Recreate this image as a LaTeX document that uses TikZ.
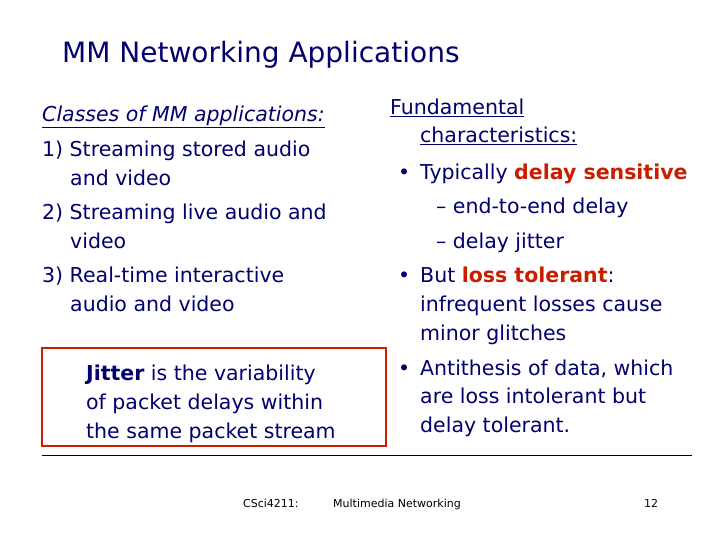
\documentclass[tikz,border=0pt]{standalone}
\usepackage{fontspec}
\setmainfont{DejaVu Sans}
\begin{document}
\begin{tikzpicture}[x=1pt,y=-1pt,
 txt/.style={anchor=base west,inner sep=0pt,text=navy,font=\fontsize{20.5}{24}\selectfont},
 foot/.style={anchor=base west,inner sep=0pt,font=\fontsize{11}{13}\selectfont}]
\definecolor{navy}{RGB}{0,0,110}
\definecolor{hl}{RGB}{200,30,0}
\useasboundingbox (0,0) rectangle (720,540);
\node[txt,font=\fontsize{28}{32}\selectfont] (title) at (62,63) {MM Networking Applications};
\node[txt] (l1) at (42,122) {\underline{\itshape Classes of MM applications:}};
\node[txt] (l2) at (42,157) {1) Streaming stored audio};
\node[txt] (l3) at (70,186) {and video};
\node[txt] (l4) at (42,219) {2) Streaming live audio and};
\node[txt] (l5) at (70,248) {video};
\node[txt] (l6) at (42,282) {3) Real-time interactive};
\node[txt] (l7) at (70,311) {audio and video};
\draw[hl,line width=1.2pt] (42,348) rectangle (386,446);
\node[txt] (j1) at (86,380) {\textbf{Jitter} is the variability};
\node[txt] (j2) at (86,409) {of packet delays within};
\node[txt] (j3) at (86,438) {the same packet stream};
\node[txt] (r1) at (390,115) {\underline{Fundamental}};
\node[txt] (r2) at (420,143) {\underline{characteristics:}};
\node[txt] (b1) at (398,180) {•};
\node[txt] (r3) at (420,180) {Typically \textbf{\color{hl}delay sensitive}};
\node[txt] (r4) at (436,214) {– end-to-end delay};
\node[txt] (r5) at (436,248) {– delay jitter};
\node[txt] (b2) at (398,282) {•};
\node[txt] (r6) at (420,282) {But \textbf{\color{hl}loss tolerant}:};
\node[txt] (r7) at (420,311) {infrequent losses cause};
\node[txt] (r8) at (420,340) {minor glitches};
\node[txt] (b3) at (398,375) {•};
\node[txt] (r9) at (420,375) {Antithesis of data, which};
\node[txt] (r10) at (420,403) {are loss intolerant but};
\node[txt] (r11) at (420,432) {delay tolerant.};
\draw[line width=0.8pt] (42,455) -- (692,455);
\node[foot] (f1) at (243,507) {CSci4211:};
\node[foot] (f2) at (333,507) {Multimedia Networking};
\node[foot] (f3) at (644,507) {12};
\end{tikzpicture}
\end{document}
